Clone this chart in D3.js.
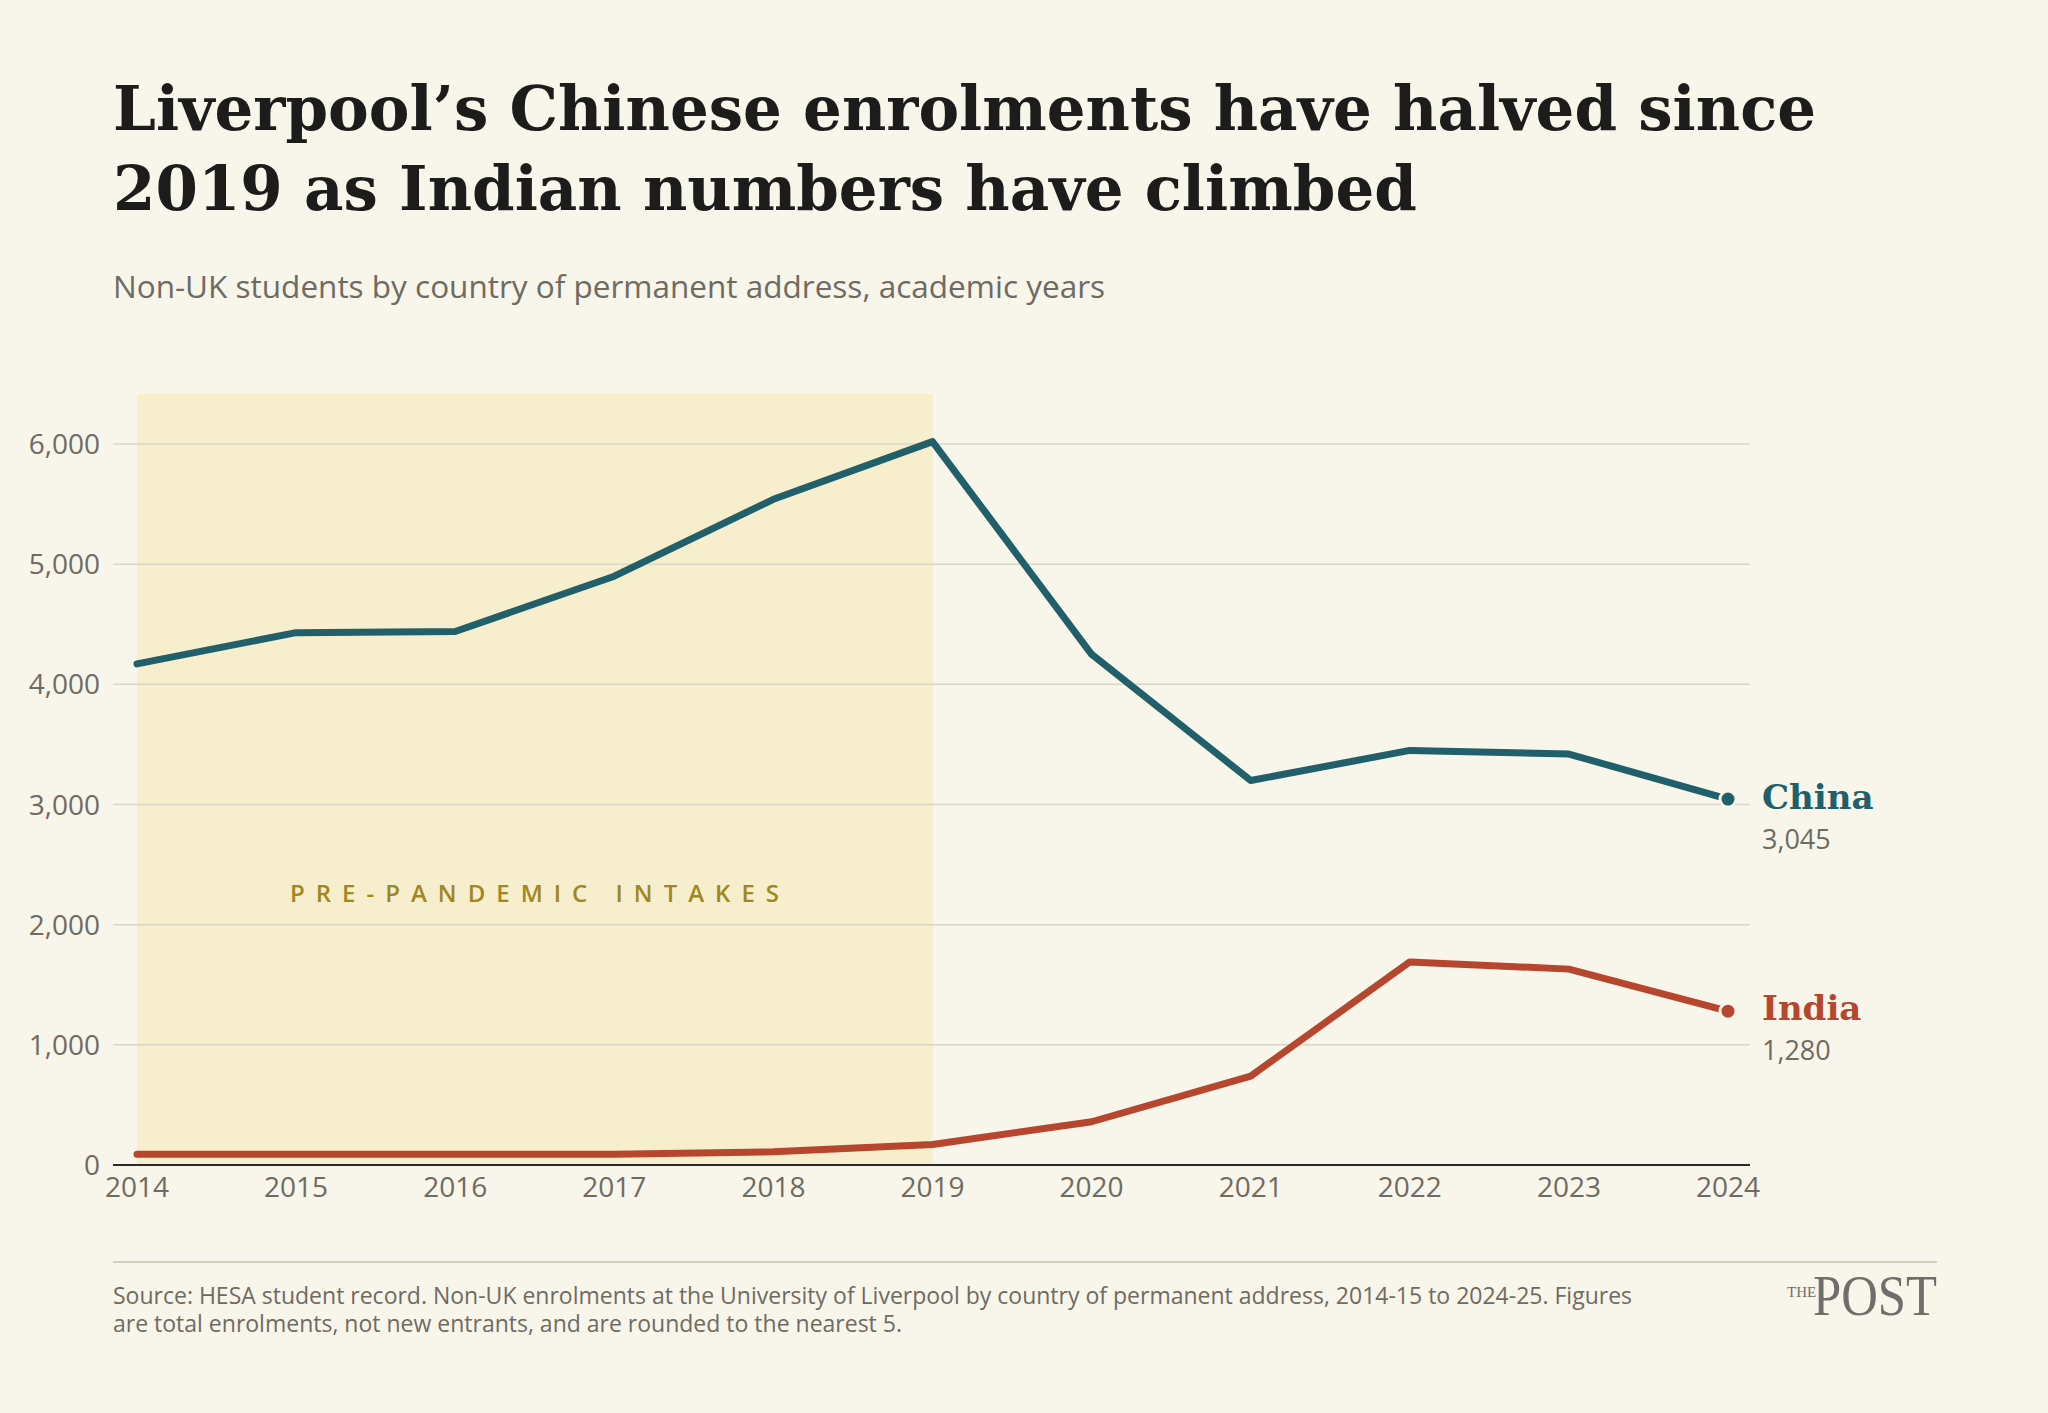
<!DOCTYPE html>
<html><head><meta charset="utf-8">
<script src="https://cdn.jsdelivr.net/npm/d3@7"></script>
<style>body{margin:0;background:#f8f5ea}</style></head>
<body><svg id="c" width="2048" height="1413"></svg>
<script>
const years=[2014,2015,2016,2017,2018,2019,2020,2021,2022,2023,2024];
const china=[4170,4430,4440,4900,5540,6020,4250,3200,3450,3420,3045];
const india=[90,90,90,90,110,170,360,740,1690,1630,1280];
const yTicks=[0,1000,2000,3000,4000,5000,6000];
const svg=d3.select("#c");
svg.append("rect").attr("width",2048).attr("height",1413).attr("fill","#f8f5ea");
const x=d3.scaleLinear().domain([2014,2024]).range([137,1728]);
const y=d3.scaleLinear().domain([0,6000]).range([1165,444]);
const sans="'Open Sans', sans-serif", serif="'DejaVu Serif', serif";
const t=svg.append("text").attr("x",113).attr("font-family",serif).attr("font-weight","bold").attr("font-size",61).attr("fill","#1c1c1a");
t.append("tspan").attr("x",113).attr("y",130).text("Liverpool’s Chinese enrolments have halved since");
t.append("tspan").attr("x",113).attr("y",210).text("2019 as Indian numbers have climbed");
svg.append("text").attr("x",113).attr("y",298).attr("font-family",sans).attr("font-size",31.5).attr("fill","#6e6b62").text("Non-UK students by country of permanent address, academic years");
svg.append("rect").attr("x",x(2014)).attr("y",394).attr("width",x(2019)-x(2014)).attr("height",y(0)-394).attr("fill","#f6eecd");
svg.append("g").selectAll("line").data(yTicks.slice(1)).join("line").attr("x1",113).attr("x2",1750).attr("y1",d=>y(d)).attr("y2",d=>y(d)).attr("stroke","#dcd6c6").attr("stroke-width",1.5);
svg.append("line").attr("x1",113).attr("x2",1750).attr("y1",y(0)).attr("y2",y(0)).attr("stroke","#2a2a28").attr("stroke-width",2);
svg.append("g").selectAll("text").data(yTicks).join("text").attr("x",100).attr("y",d=>y(d)+10).attr("text-anchor","end").attr("font-family",sans).attr("font-size",28).attr("fill","#6e6b62").text(d=>d3.format(",")(d));
svg.append("g").selectAll("text").data(years).join("text").attr("x",d=>x(d)).attr("y",1197).attr("text-anchor","middle").attr("font-family",sans).attr("font-size",28).attr("fill","#6e6b62").text(d=>d);
svg.append("text").attr("x",540).attr("y",902).attr("text-anchor","middle").attr("font-family",sans).attr("font-weight","600").attr("font-size",24).attr("letter-spacing",11).attr("fill","#a08720").text("PRE-PANDEMIC INTAKES");
const line=d3.line().x((d,i)=>x(years[i])).y(d=>y(d));
[[china,"#215f6b","China","3,045",797],[india,"#b6462d","India","1,280",1008]].forEach(([s,c,n,v,ly])=>{
 svg.append("path").attr("d",line(s)).attr("fill","none").attr("stroke",c).attr("stroke-width",7).attr("stroke-linejoin","round").attr("stroke-linecap","round");
 svg.append("circle").attr("cx",x(2024)).attr("cy",y(s[s.length-1])).attr("r",8).attr("fill",c).attr("stroke","#f8f5ea").attr("stroke-width",3);
 svg.append("text").attr("x",1762).attr("y",ly+12).attr("font-family",serif).attr("font-weight","bold").attr("font-size",34).attr("fill",c).text(n);
 svg.append("text").attr("x",1762).attr("y",ly+52).attr("font-family",sans).attr("font-size",27).attr("fill","#6e6b62").text(v);
});
svg.append("line").attr("x1",113).attr("x2",1937).attr("y1",1262).attr("y2",1262).attr("stroke","#d6d0bf").attr("stroke-width",2);
const s=svg.append("text").attr("font-family",sans).attr("font-size",23).attr("fill","#6e6b62");
s.append("tspan").attr("x",113).attr("y",1304).text("Source: HESA student record. Non-UK enrolments at the University of Liverpool by country of permanent address, 2014-15 to 2024-25. Figures");
s.append("tspan").attr("x",113).attr("y",1332).text("are total enrolments, not new entrants, and are rounded to the nearest 5.");
svg.append("text").attr("x",1787).attr("y",1297).attr("font-family","'Liberation Serif',serif").attr("font-size",15).attr("fill","#6e6e6a").text("THE");
svg.append("text").attr("x",1937).attr("y",1315).attr("text-anchor","end").attr("font-family","'Liberation Serif',serif").attr("font-size",58).attr("textLength",124).attr("lengthAdjust","spacingAndGlyphs").attr("fill","#6e6e6a").text("POST");
</script></body></html>
